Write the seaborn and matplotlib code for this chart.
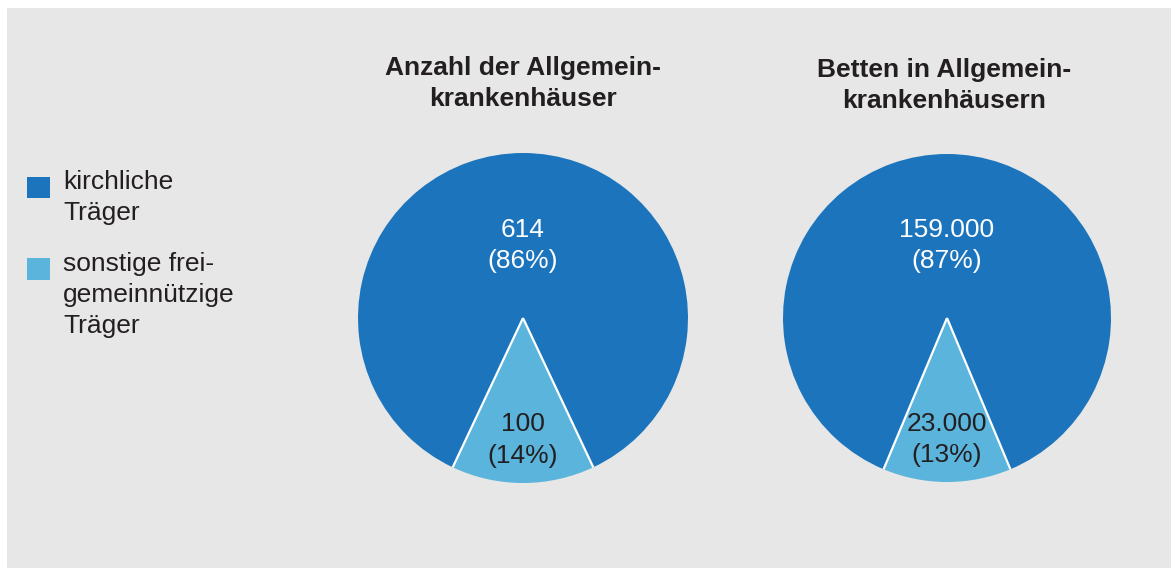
import numpy as np
import matplotlib
matplotlib.use("Agg")
import matplotlib.pyplot as plt
import seaborn as sns
from matplotlib.patches import Rectangle, Patch
from matplotlib.legend_handler import HandlerPatch

sns.set_theme(style="white")
plt.rcParams['font.family'] = ['Liberation Sans', 'DejaVu Sans']

# data
categories = ["kirchliche\nTräger", "sonstige frei-\ngemeinnützige\nTräger"]
titles = ["Anzahl der Allgemein-\nkrankenhäuser", "Betten in Allgemein-\nkrankenhäusern"]
anzahl = [614, 100]
betten = [159000, 23000]

dark_blue = "#1c75bc"
light_blue = "#5ab4dc"
panel_grey = "#e6e7e6"
text_dark = "#231f20"

FS = 19
LS = 1.38

W, H = 1171, 568
fig = plt.figure(figsize=(W / 100, H / 100), dpi=100, facecolor="white")
fig.patches.append(Rectangle((7 / W, 0), 1 - 7 / W, 1 - 8 / H, transform=fig.transFigure,
                             facecolor=panel_grey, edgecolor="none", zorder=-10))


def fmt(v):
    return f"{v:,}".replace(",", ".")


def draw_pie(cx, cy, r, values, title, title_x):
    w, h = 2 * r / W, 2 * r / H
    ax = fig.add_axes([cx / W - w / 2, 1 - cy / H - h / 2, w, h])
    ax.set_facecolor("none")
    total = sum(values)
    start = 270 - 360 * (values[0] + values[1] / 2) / total
    wedges, _ = ax.pie(values, colors=[dark_blue, light_blue], startangle=start,
                       counterclock=True, radius=1, wedgeprops=dict(linewidth=0))
    # white separators between the wedges
    for wdg in wedges[1:]:
        for t in (wdg.theta1, wdg.theta2):
            a = np.deg2rad(t)
            ax.plot([0, np.cos(a)], [0, np.sin(a)], color="white", lw=1.6,
                    solid_capstyle="butt")
    dists = [0.44, 0.74]
    tcolors = ["white", text_dark]
    for wdg, v, d, c in zip(wedges, values, dists, tcolors):
        th = np.deg2rad((wdg.theta1 + wdg.theta2) / 2)
        pct = round(100 * v / total)
        ax.text(d * np.cos(th), d * np.sin(th), f"{fmt(v)}\n({pct}%)",
                ha="center", va="center", color=c, fontsize=FS, linespacing=LS)
    ax.set_xlim(-1, 1)
    ax.set_ylim(-1, 1)
    ax.set_aspect("equal")
    ax.axis("off")
    ax.text(title_x, 1.21, title, transform=ax.transAxes, ha="center", va="center",
            fontsize=FS, fontweight="bold", color=text_dark, linespacing=LS)
    return ax


draw_pie(523, 318, 165, anzahl, titles[0], 0.5)
draw_pie(947, 318, 164, betten, titles[1], 0.49)

nlines = {}


def square_first_line(legend, orig_handle, xdescent, ydescent, width, height, fontsize):
    n = nlines[id(orig_handle)]
    shift = (n - 1) / 2 * LS * 0.857 * fontsize - 0.19 * fontsize
    return Rectangle((-xdescent, -ydescent + shift), width, height)


handles = [Patch(facecolor=dark_blue, edgecolor="none"),
           Patch(facecolor=light_blue, edgecolor="none")]
for hd, lab in zip(handles, categories):
    nlines[id(hd)] = lab.count("\n") + 1

leg = fig.legend(handles, categories, loc="upper left", bbox_to_anchor=(27 / W, 1 - 170 / H),
                 frameon=False, fontsize=FS, handlelength=0.86, handleheight=0.86,
                 handletextpad=0.5, borderpad=0, borderaxespad=0, labelspacing=1.0,
                 labelcolor=text_dark,
                 handler_map={Patch: HandlerPatch(patch_func=square_first_line)})
for t in leg.get_texts():
    t.set_linespacing(LS)

fig.savefig("out.png", dpi=100, facecolor=fig.get_facecolor())
